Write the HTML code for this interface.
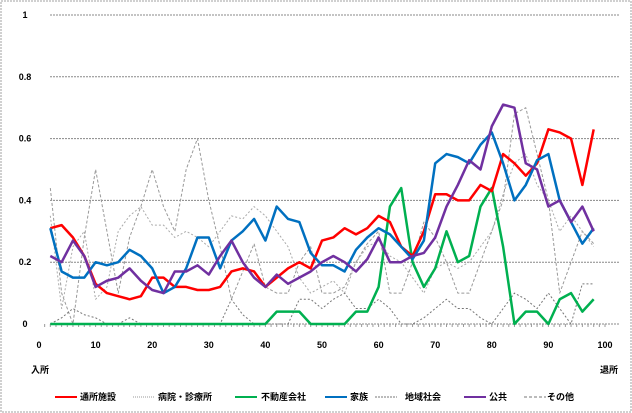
<!DOCTYPE html>
<html><head><meta charset="utf-8"><style>
body{margin:0;background:#fff}
svg{display:block;font-family:"Liberation Sans","Noto Sans CJK JP",sans-serif;font-weight:bold;font-size:9px}
</style></head><body>
<svg id="chart" width="632" height="413" xmlns="http://www.w3.org/2000/svg">
<rect x="1" y="1" width="630" height="411" fill="#fff" stroke="#a0a0a0" stroke-dasharray="2,1"/>
<g id="grid"></g><g id="series"></g><g id="labels"></g>
<text x="31" y="373">入所</text>
<text x="600" y="373">退所</text>
<g id="legend"></g>
</svg>
<script>
const xs=[2,4,6,8,10,12,14,16,18,20,22,24,26,28,30,32,34,36,38,40,42,44,46,48,50,52,54,56,58,60,62,64,66,68,70,72,74,76,78,80,82,84,86,88,90,92,94,96,98];
const redVals=[0.31,0.32,0.28,0.22,0.13,0.10,0.09,0.08,0.09,0.15,0.15,0.12,0.12,0.11,0.11,0.12,0.17,0.18,0.17,0.12,0.15,0.18,0.20,0.18,0.27,0.28,0.31,0.29,0.31,0.35,0.33,0.25,0.22,0.30,0.42,0.42,0.40,0.40,0.45,0.43,0.55,0.52,0.48,0.52,0.63,0.62,0.60,0.45,0.63];
const hospVals=[0,0.02,0.05,0.03,0.02,0,0,0.02,0,0,0,0,0,0,0,0,0.08,0.03,0,0,0,0,0.08,0.08,0.05,0.08,0.10,0.05,0.05,0.08,0.05,0,0,0.02,0.05,0.08,0.05,0.05,0.02,0,0.05,0.10,0.08,0.05,0.10,0.05,0,0.13,0.13];
const greenVals=[0,0,0,0,0,0,0,0,0,0,0,0,0,0,0,0,0,0,0,0,0.04,0.04,0.04,0,0,0,0,0.04,0.04,0.12,0.38,0.44,0.20,0.12,0.18,0.30,0.20,0.22,0.38,0.44,0.25,0,0.04,0.04,0,0.08,0.10,0.04,0.08];
const blueVals=[0.31,0.17,0.15,0.15,0.20,0.19,0.20,0.24,0.22,0.18,0.10,0.12,0.18,0.28,0.28,0.18,0.27,0.30,0.34,0.27,0.38,0.34,0.33,0.23,0.19,0.19,0.17,0.24,0.28,0.31,0.29,0.25,0.21,0.27,0.52,0.55,0.54,0.52,0.58,0.62,0.52,0.40,0.45,0.53,0.55,0.40,0.33,0.26,0.31];
const communityVals=[0.35,0.05,0.25,0.30,0.08,0.12,0.30,0.35,0.38,0.32,0.32,0.28,0.30,0.28,0.25,0.30,0.35,0.34,0.38,0.35,0.30,0.25,0.15,0.10,0.12,0.14,0.10,0.20,0.25,0.27,0.22,0.20,0.15,0.10,0.18,0.20,0.18,0.20,0.25,0.30,0.42,0.52,0.55,0.45,0.40,0.30,0.35,0.30,0.25];
const purpleVals=[0.22,0.20,0.27,0.22,0.12,0.14,0.15,0.18,0.14,0.11,0.10,0.17,0.17,0.19,0.16,0.22,0.27,0.20,0.15,0.12,0.16,0.13,0.15,0.17,0.20,0.22,0.20,0.17,0.21,0.28,0.20,0.20,0.22,0.23,0.28,0.38,0.45,0.53,0.50,0.64,0.71,0.70,0.52,0.50,0.38,0.40,0.33,0.38,0.30];
const otherVals=[0.44,0.10,0,0.28,0.50,0.30,0.10,0.28,0.38,0.50,0.38,0.30,0.50,0.60,0.40,0.25,0.08,0.17,0.26,0.12,0.10,0.10,0.20,0.25,0.10,0.10,0.12,0.20,0.26,0.30,0.10,0.10,0.20,0.33,0.28,0.20,0.10,0.10,0.20,0.30,0.40,0.68,0.70,0.55,0.40,0.10,0.20,0.30,0.26];
const yTicks=[0,0.2,0.4,0.6,0.8,1];
const yTickLabels=["0","0.2","0.4","0.6","0.8","1"];
const xTicks=[0,10,20,30,40,50,60,70,80,90,100];
const names=["通所施設","病院・診療所","不動産会社","家族","地域社会","公共","その他"];
const NS="http://www.w3.org/2000/svg";
const X=v=>39+v*5.66, Y=v=>324-v*309;
function mk(t,a,p){const e=document.createElementNS(NS,t);for(const k in a)e.setAttribute(k,a[k]);p.appendChild(e);return e;}
const grid=document.getElementById('grid'),lab=document.getElementById('labels');
yTicks.forEach((t,i)=>{
 const l=mk('line',{x1:50,x2:620,y1:Y(t),y2:Y(t),stroke:'#888','stroke-dasharray':'2,1'},grid);
 
 
 const tx=mk('text',{x:25,y:Y(t)+3,'text-anchor':'middle'},lab);tx.textContent=yTickLabels[i];
 
 
});
for(let v=1;v<=100;v++){const tk=mk('line',{x1:X(v),x2:X(v),y1:324,y2:327,stroke:'#999'},grid);
 
 }
xTicks.forEach(t=>{const tx=mk('text',{x:X(t),y:348,'text-anchor':'middle'},lab);tx.textContent=t;
 
 });
const series=[
 {v:otherVals,c:'#999',w:1,d:'3,2'},
 {v:communityVals,c:'#aaa',w:1,d:'2,2'},
 {v:hospVals,c:'#777',w:1,d:'2,2'},
 {v:greenVals,c:'#00b050',w:2.5,d:''},
 {v:redVals,c:'#ff0000',w:2.5,d:''},
 {v:blueVals,c:'#0070c0',w:2.5,d:''},
 {v:purpleVals,c:'#7030a0',w:2.5,d:''}];
const sNames=['series-other','series-community','series-hospital','series-realestate','series-facility','series-family','series-public'];
const sg=document.getElementById('series');
series.forEach((s,i)=>{
 const p=mk('polyline',{points:s.v.map((v,j)=>X(xs[j])+','+Y(v)).join(' '),fill:'none',stroke:s.c,'stroke-width':s.w,'stroke-dasharray':s.d,'stroke-linejoin':'round'},sg);
 
 
});
const leg=[[55,80,'#ff0000','',names[0]],[133,158,'#ccc','1,1',names[1]],[235,261,'#00b050','',names[2]],[325,350,'#0070c0','',names[3]],[375,405,'#bbb','2,1',names[4]],[464,489,'#7030a0','',names[5]],[524,547,'#bbb','3,2',names[6]]];
const lg=document.getElementById('legend');
leg.forEach(e=>{
 const g=mk('g',{},lg);
 
 
 mk('line',{x1:e[0],x2:e[0]+22,y1:397,y2:397,stroke:e[2],'stroke-width':2,'stroke-dasharray':e[3]},g);
 const t=mk('text',{x:e[1],y:400},g);t.textContent=e[4];
});
</script>
</body></html>
